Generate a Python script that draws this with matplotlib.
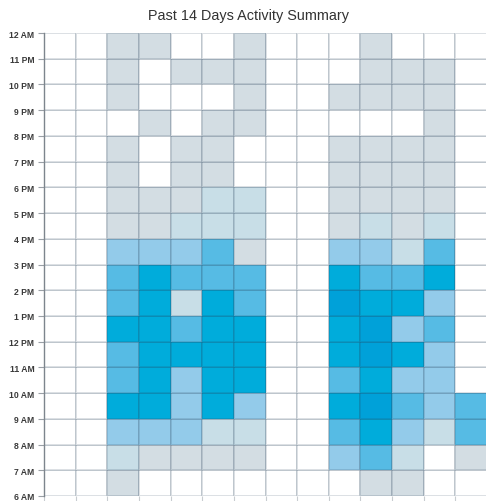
import numpy as np
import matplotlib
matplotlib.use("Agg")
from matplotlib import pyplot as plt
from matplotlib.colors import ListedColormap, BoundaryNorm

plt.rcParams['font.family'] = ['Liberation Sans', 'DejaVu Sans']

title = "Past 14 Days Activity Summary"
hour_labels = ["6 AM", "7 AM", "8 AM", "9 AM", "10 AM", "11 AM", "12 PM", "1 PM", "2 PM",
               "3 PM", "4 PM", "5 PM", "6 PM", "7 PM", "8 PM", "9 PM", "10 PM", "11 PM", "12 AM"]
n_days = 14

# activity level per hour slot, top row = 11 PM slot, bottom row = 6 AM slot
# 0 none, 1 grey, 2 pale blue, 3 light blue, 4 medium, 5 bright, 6 darkest
levels = [
    [0, 0, 1, 1, 0, 0, 1, 0, 0, 0, 1, 0, 0, 0],  # 11 PM
    [0, 0, 1, 0, 1, 1, 1, 0, 0, 0, 1, 1, 1, 0],  # 10 PM
    [0, 0, 1, 0, 0, 0, 1, 0, 0, 1, 1, 1, 1, 0],  # 9 PM
    [0, 0, 0, 1, 0, 1, 1, 0, 0, 0, 0, 0, 1, 0],  # 8 PM
    [0, 0, 1, 0, 1, 1, 0, 0, 0, 1, 1, 1, 1, 0],  # 7 PM
    [0, 0, 1, 0, 1, 1, 0, 0, 0, 1, 1, 1, 1, 0],  # 6 PM
    [0, 0, 1, 1, 1, 2, 2, 0, 0, 1, 1, 1, 1, 0],  # 5 PM
    [0, 0, 1, 1, 2, 2, 2, 0, 0, 1, 2, 1, 2, 0],  # 4 PM
    [0, 0, 3, 3, 3, 4, 1, 0, 0, 3, 3, 2, 4, 0],  # 3 PM
    [0, 0, 4, 5, 4, 4, 4, 0, 0, 5, 4, 4, 5, 0],  # 2 PM
    [0, 0, 4, 5, 2, 5, 4, 0, 0, 6, 5, 5, 3, 0],  # 1 PM
    [0, 0, 5, 5, 4, 5, 5, 0, 0, 5, 6, 3, 4, 0],  # 12 PM
    [0, 0, 4, 5, 5, 5, 5, 0, 0, 5, 6, 5, 3, 0],  # 11 AM
    [0, 0, 4, 5, 3, 5, 5, 0, 0, 4, 5, 3, 3, 0],  # 10 AM
    [0, 0, 5, 5, 3, 5, 3, 0, 0, 5, 6, 4, 3, 4],  # 9 AM
    [0, 0, 3, 3, 3, 2, 2, 0, 0, 4, 5, 3, 2, 4],  # 8 AM
    [0, 0, 2, 1, 1, 1, 1, 0, 0, 3, 4, 2, 0, 1],  # 7 AM
    [0, 0, 1, 0, 0, 0, 0, 0, 0, 0, 1, 1, 0, 0],  # 6 AM
]

level_colors = ["#ffffff", "#d3dde3", "#c8dee7", "#93cbea", "#56bbe4", "#00acdb", "#00a1d9"]

grid = np.array(levels[::-1])
cmap = ListedColormap(level_colors)
norm = BoundaryNorm(np.arange(-0.5, len(level_colors)), cmap.N)

fig = plt.figure(figsize=(4.86, 5.02), dpi=100)
ax = fig.add_axes([44 / 486, 5 / 502, 443 / 486, 463 / 502])

ax.pcolormesh(np.arange(n_days + 1), np.arange(len(hour_labels)), grid,
              cmap=cmap, norm=norm, edgecolors=(0.15, 0.25, 0.35, 0.16), linewidth=1.1)

ax.set_xlim(0, n_days)
ax.set_ylim(0, len(hour_labels) - 1)
ax.set_yticks(np.arange(len(hour_labels)))
ax.set_yticklabels(hour_labels, fontweight='bold')
ax.set_xticks(np.arange(n_days + 1))
ax.set_xticklabels([])
ax.tick_params(axis='y', length=4, width=0.8, color='#9aa0a6', labelsize=6.2,
               labelcolor='#3a3a3a', pad=3)
ax.tick_params(axis='x', length=4, width=0.8, color='#c8ccd0')
for side in ['top', 'right', 'bottom']:
    ax.spines[side].set_visible(False)
ax.spines['left'].set_color('#7d858d')
ax.spines['left'].set_linewidth(1.0)

fig.text(248 / 486, 1 - 16 / 502, title, ha='center', va='center', fontsize=10.4, color='#333333')

fig.savefig("out.png", dpi=100)
plt.close(fig)
